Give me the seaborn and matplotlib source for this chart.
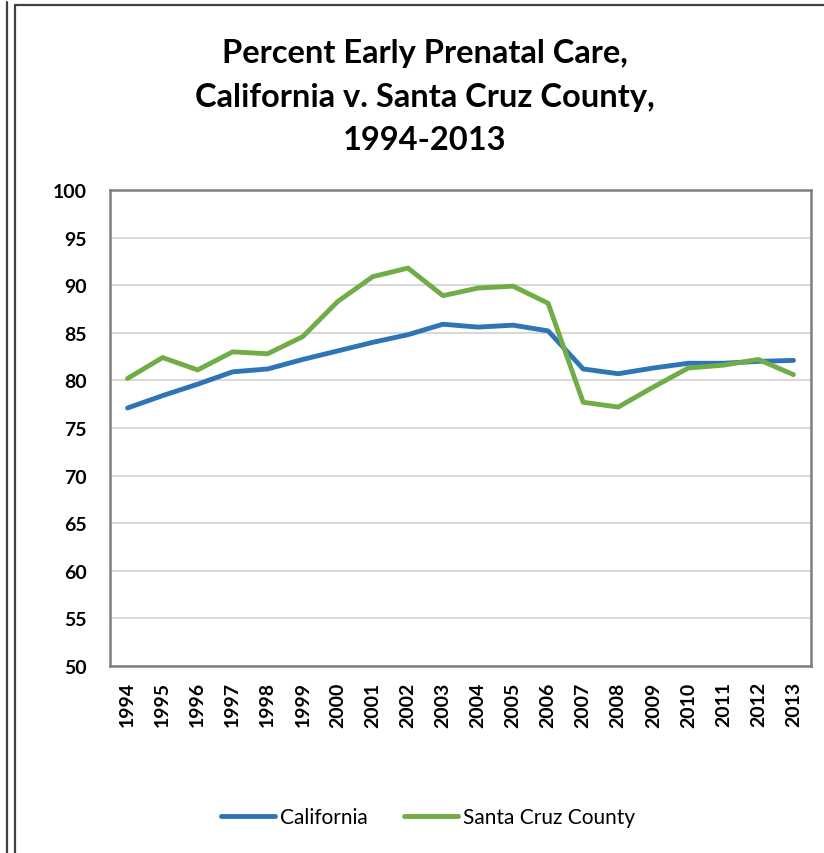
import matplotlib
matplotlib.use("Agg")
import matplotlib.pyplot as plt
import matplotlib.lines as mlines
import pandas as pd
import seaborn as sns

# data
years = [1994, 1995, 1996, 1997, 1998, 1999, 2000, 2001, 2002, 2003,
         2004, 2005, 2006, 2007, 2008, 2009, 2010, 2011, 2012, 2013]
california = [77.1, 78.4, 79.6, 80.9, 81.2, 82.2, 83.1, 84.0, 84.8, 85.9,
              85.6, 85.8, 85.2, 81.2, 80.7, 81.3, 81.8, 81.8, 82.0, 82.1]
santa_cruz = [80.2, 82.4, 81.1, 83.0, 82.8, 84.6, 88.3, 90.9, 91.8, 88.9,
              89.7, 89.9, 88.1, 77.7, 77.2, 79.3, 81.3, 81.6, 82.2, 80.6]
series_names = ["California", "Santa Cruz County"]
colors = {"California": "#2E75B6", "Santa Cruz County": "#70AD47"}

df = pd.DataFrame({
    "pos": list(range(len(years))) * 2,
    "value": california + santa_cruz,
    "series": [series_names[0]] * len(years) + [series_names[1]] * len(years),
})

sns.set_style("white")
plt.rcParams["font.family"] = ["Lato", "DejaVu Sans"]
plt.rcParams["text.color"] = "black"
plt.rcParams["xtick.color"] = "black"
plt.rcParams["ytick.color"] = "black"

fig = plt.figure(figsize=(8.24, 8.54), dpi=100)
ax = fig.add_axes([110 / 824, 1 - 667 / 854, 701 / 824, 476 / 854])

sns.lineplot(data=df, x="pos", y="value", hue="series", palette=colors,
             linewidth=3.5, ax=ax, legend=False, zorder=3)

ax.set_xlim(-0.5, len(years) - 0.5)
ax.set_ylim(50, 100)
ax.set_yticks(range(50, 101, 5))
ax.set_xticks(range(len(years)))
ax.set_xticklabels([str(y) for y in years], rotation=90, fontweight="bold", fontsize=14)
for lab in ax.get_yticklabels():
    lab.set_fontweight("bold")
    lab.set_fontsize(14)
ax.tick_params(axis="both", length=0)
ax.tick_params(axis="y", pad=17)
ax.tick_params(axis="x", pad=11)
ax.set_xlabel("")
ax.set_ylabel("")
ax.yaxis.grid(True, color="#d9d9d9", linewidth=1.5)
ax.set_axisbelow(True)
for sp in ax.spines.values():
    sp.set_color("#7f7f7f")
    sp.set_linewidth(1.8)

fig.text(425 / 824, 1 - 97 / 854,
         "Percent Early Prenatal Care,\nCalifornia v. Santa Cruz County,\n1994-2013",
         ha="center", va="center", fontsize=23.5, fontweight="bold", linespacing=1.6)

handles = [mlines.Line2D([], [], color=colors[n], linewidth=3.5) for n in series_names]
fig.legend(handles, series_names, loc="center", bbox_to_anchor=(428 / 824, 1 - 818 / 854),
           ncol=2, frameon=False, fontsize=15, handlelength=2.6, handletextpad=0.25,
           columnspacing=1.7)

# page frame lines
fig.add_artist(mlines.Line2D([7 / 824, 7 / 824], [0, 1 - 3 / 854], color="#404040", linewidth=1.6))
fig.add_artist(mlines.Line2D([15 / 824, 15 / 824], [0, 1 - 6 / 854], color="#404040", linewidth=1.6))
fig.add_artist(mlines.Line2D([15 / 824, 1], [1 - 6 / 854, 1 - 6 / 854], color="#404040", linewidth=1.6))

fig.savefig("out.png", dpi=100)
